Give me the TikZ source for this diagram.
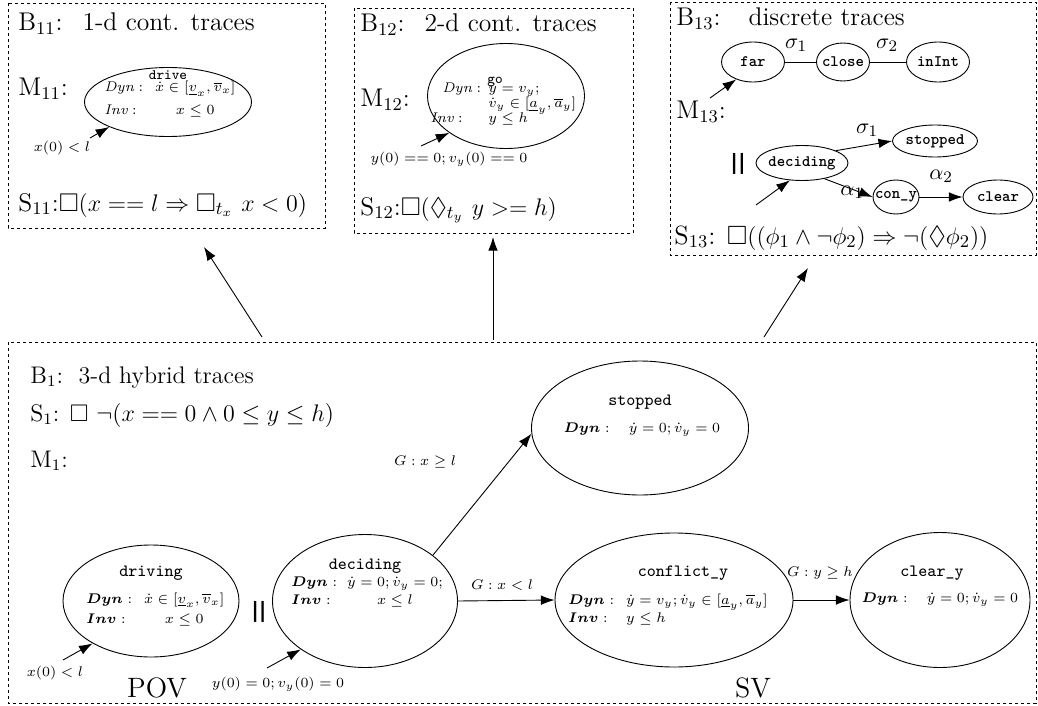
\documentclass[tikz,border=0pt]{standalone}
\usepackage{amsmath,amssymb}
\usepackage{fontspec}
\newfontfamily\barfont{DejaVu Sans}
\usetikzlibrary{shapes.geometric,arrows.meta}
\newcommand\bigtt{\fontsize{8.6}{9}\selectfont\ttfamily}
\tikzset{
  box/.style={draw, dash pattern=on 1.5pt off 1.5pt, line width=0.45pt},
  st/.style={draw, ellipse, inner sep=0pt, line width=0.45pt},
  arr/.style={-{Latex[length=6.8pt,width=4.8pt]}, line width=0.45pt},
  big/.style={font=\fontsize{12.8}{15}\selectfont, anchor=base west, inner sep=0pt},
  mid/.style={font=\fontsize{12}{14}\selectfont, anchor=base west, inner sep=0pt},
  sm/.style={font=\fontsize{7}{8}\selectfont, inner sep=0pt},
  smb/.style={font=\fontsize{7.4}{9}\selectfont, inner sep=0pt},
  body/.style={anchor=base west, inner sep=0pt},
  tts/.style={font=\fontsize{7.2}{8}\selectfont\ttfamily, inner sep=0pt},
  ttb/.style={font=\bigtt, inner sep=0pt},
  ttd/.style={font=\fontsize{8}{9}\selectfont\ttfamily\bfseries, inner sep=0pt},
  lab/.style={font=\fontsize{11}{13}\selectfont, inner sep=0pt},
  par/.style={font=\fontsize{10.5}{12}\selectfont\barfont\bfseries, inner sep=0pt},
  who/.style={font=\fontsize{14}{16}\selectfont, inner sep=0pt, anchor=base},
}
\begin{document}
\begin{tikzpicture}[x=0.5pt,y=-0.5pt]
\useasboundingbox (0,0) rectangle (1038,706);
% ---------- boxes
\draw[box] (8,3) rectangle (325,228);
\draw[box] (354,8) rectangle (633,233);
\draw[box] (670,2) rectangle (1036,255);
\draw[box] (8,342) rectangle (1036,703);
% ---------- B11
\node[big] (b11t) at (18,31) {B$_{11}$:\hspace{10pt}1-d cont. traces};
\node[big] (m11) at (18,96) {M$_{11}$:};
\node[st, minimum width=83.5pt, minimum height=34.5pt] (drive) at (168,102) {};
\node[tts] (drivet) at (168,75) {drive};
\node[body, font=\fontsize{7}{11}\selectfont] (drivetx) at (104,92)
  {\begin{tabular}[t]{@{}l@{\hspace{6pt}}c@{}}
   $\mathit{Dyn}:$ & $\dot{x}\in[\underline{v}_x,\overline{v}_x]$\\
   $\mathit{Inv}:$ & $x\leq 0$
   \end{tabular}};
\coordinate (i11) at (90,138);
\draw[arr] (i11) -- (drive.203);
\node[sm] (i11l) at (62,148) {$x(0)<l$};
\node[big] (s11) at (18,211) {S$_{11}$:$\Box(x==l\Rightarrow\Box_{t_x}\ x<0)$};
% ---------- B12
\node[big] (b12t) at (360,32) {B$_{12}$:\hspace{10pt}2-d cont. traces};
\node[big] (m12) at (360,107) {M$_{12}$:};
\node[st, minimum width=78.5pt, minimum height=52.5pt] (go) at (506,96) {};
\node[tts] (got) at (495,82) {go};
\node[body, font=\fontsize{7}{8}\selectfont] (gol1) at (442,93)
  {\makebox[23pt][l]{$\mathit{Dyn}:$}$\dot{y}=v_y;$};
\node[body, font=\fontsize{7}{8}\selectfont] (gol2) at (488,108)
  {$\dot{v}_y\in[\underline{a}_y,\overline{a}_y]$};
\node[body, font=\fontsize{7}{8}\selectfont] (gol3) at (430,123)
  {\makebox[29pt][l]{$\mathit{Inv}:$}$y\leq h$};
\coordinate (i12) at (421,146);
\draw[arr] (i12) -- (go.213);
\node[sm] (i12l) at (449,159) {$y(0)==0;v_y(0)==0$};
\node[big] (s12) at (360,215) {S$_{12}$:$\Box(\Diamond_{t_y}\ y>=h)$};
% ---------- B13
\node[big] (b13t) at (676,26) {B$_{13}$:\hspace{14pt}discrete traces};
\node[st, minimum width=31.5pt, minimum height=20pt] (far) at (753,62) {};
\node[ttd] at (far) {far};
\node[st, minimum width=26.5pt, minimum height=19pt] (close) at (843,62) {};
\node[ttd] at (close) {close};
\node[st, minimum width=31.5pt, minimum height=20pt] (inint) at (938,62) {};
\node[ttd] at (inint) {inInt};
\draw[line width=0.45pt] (far) -- (close);
\draw[line width=0.45pt] (close) -- (inint);
\node[lab] (sg1) at (796,45) {$\sigma_1$};
\node[lab] (sg2) at (887,45) {$\sigma_2$};
\coordinate (i13a) at (710,98);
\draw[arr] (i13a) -- (far.226);
\node[big] (m13) at (676,119) {M$_{13}$:};
\node[par] (par13) at (738,164) {||};
\node[st, minimum width=46pt, minimum height=17.5pt] (dec2) at (802,163) {};
\node[ttd] at (dec2) {deciding};
\node[st, minimum width=42.5pt, minimum height=16pt] (stop2) at (935,141) {};
\node[ttd] at (stop2) {stopped};
\node[st, minimum width=23pt, minimum height=17pt] (cony) at (896,197) {};
\node[ttd] at (cony) {con\_y};
\node[st, minimum width=35pt, minimum height=17pt] (clear2) at (998,197) {};
\node[ttd] at (clear2) {clear};
\draw[arr] (dec2.20) -- (stop2.west);
\draw[arr] (dec2.-35) -- (cony.west);
\draw[arr] (cony) -- (clear2);
\node[lab] (sg3) at (867,130) {$\sigma_1$};
\node[lab] (al1) at (852,192) {$\alpha_1$};
\node[lab] (al2) at (941,176) {$\alpha_2$};
\coordinate (i13b) at (756,205);
\draw[arr] (i13b) -- (dec2.235);
\node[big, font=\fontsize{13.2}{15}\selectfont] (s13) at (674,244) {S$_{13}$: $\Box((\phi_1\wedge\neg\phi_2)\Rightarrow\neg(\Diamond\phi_2))$};
% ---------- B1
\node[mid] (b1t) at (30,383) {B$_1$:\ \ 3-d hybrid traces};
\node[mid] (s1) at (30,421) {S$_1$: $\Box\ \neg(x==0\wedge 0\leq y\leq h)$};
\node[mid] (m1) at (30,467) {M$_1$:};
% driving
\node[st, minimum width=88pt, minimum height=56pt] (driving) at (151,601) {};
\node[ttb] (drivingt) at (151,573) {driving};
\node[body, font=\fontsize{7.4}{10}\selectfont] (drivingtx) at (86,603)
  {\begin{tabular}[t]{@{}l@{\hspace{6pt}}c@{}}
   $\boldsymbol{Dyn}:$ & $\dot{x}\in[\underline{v}_x,\overline{v}_x]$\\
   $\boldsymbol{Inv}:$ & $x\leq 0$
   \end{tabular}};
\coordinate (i1a) at (63,660);
\draw[arr] (i1a) -- (driving.216);
\node[smb] (i1al) at (55,673) {$x(0)<l$};
\node[who] (pov) at (157,697) {POV};
\node[par] (par1) at (259,612) {||};
% deciding
\node[st, minimum width=92.5pt, minimum height=66.5pt] (dec) at (365,601) {};
\node[ttb] (dect) at (365,566) {deciding};
\node[body, font=\fontsize{7.4}{9}\selectfont] (dectx) at (291,586)
  {\begin{tabular}[t]{@{}l@{\hspace{5pt}}c@{}}
   $\boldsymbol{Dyn}:$ & $\dot{y}=0;\dot{v}_y=0;$\\
   $\boldsymbol{Inv}:$ & $x\leq l$
   \end{tabular}};
\coordinate (i1b) at (267,668);
\draw[arr] (i1b) -- (dec.217);
\node[smb] (i1bl) at (278,684) {$y(0)=0;v_y(0)=0$};
% stopped
\node[st, minimum width=108.5pt, minimum height=67pt] (stop) at (640,428) {};
\node[ttb] (stopt) at (640,402) {stopped};
\node[smb] (stopd) at (642,430) {$\boldsymbol{Dyn}:\quad\dot{y}=0;\dot{v}_y=0$};
% conflict_y
\node[st, minimum width=119pt, minimum height=67pt] (conf) at (674,600) {};
\node[ttb] (conft) at (683,573) {conflict\_y};
\node[body, font=\fontsize{7.4}{8.5}\selectfont] (conftx) at (568,604)
  {\begin{tabular}[t]{@{}l@{\hspace{6pt}}l@{}}
   $\boldsymbol{Dyn}:$ & $\dot{y}=v_y;\dot{v}_y\in[\underline{a}_y,\overline{a}_y]$\\
   $\boldsymbol{Inv}:$ & $y\leq h$
   \end{tabular}};
\node[who] (sv) at (753,697) {SV};
% clear_y
\node[st, minimum width=90pt, minimum height=67.5pt] (cleary) at (940,600) {};
\node[ttb] (clearyt) at (932,573) {clear\_y};
\node[smb] (clearyd) at (940,600) {$\boldsymbol{Dyn}:\quad\dot{y}=0;\dot{v}_y=0$};
% transitions
\draw[arr] (dec.34) -- (stop.183);
\node[smb] (g1) at (425,462) {$G:x\geq l$};
\draw[arr] (dec.east) -- (conf.west);
\node[smb] (g2) at (502,585) {$G:x<l$};
\draw[arr] (conf.east) -- (cleary.west);
\node[smb] (g3) at (820,573) {$G:y\geq h$};
% ---------- refinement arrows
\coordinate (r1s) at (262,337);
\coordinate (r1e) at (204,247);
\coordinate (r2s) at (493,340);
\coordinate (r2e) at (493,237);
\coordinate (r3s) at (764,337);
\coordinate (r3e) at (808,268);
\draw[arr] (r1s) -- (r1e);
\draw[arr] (r2s) -- (r2e);
\draw[arr] (r3s) -- (r3e);
\end{tikzpicture}
\end{document}
